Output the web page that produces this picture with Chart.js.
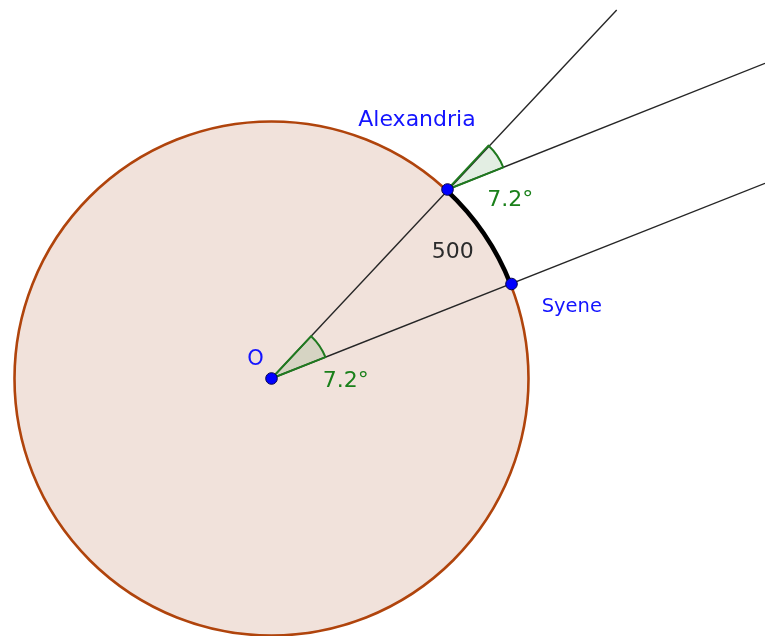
<!DOCTYPE html>
<html>
<head>
<meta charset="utf-8">
<script src="https://cdn.jsdelivr.net/npm/chart.js@4/dist/chart.umd.min.js"></script>
<style>
  html, body { margin: 0; padding: 0; background: #ffffff; }
  #wrap { width: 765px; height: 636px; }
</style>
</head>
<body>
<div id="wrap"><canvas id="c" width="765" height="636"></canvas></div>
<script>
// ---- data (units: drawing units, O at origin, y up) ----
const pointNames = ['O', 'Alexandria', 'Syene'];
const pointX = [0, 176, 240];
const pointY = [0, 189, 94.5];
const circleRadius = 257;

// rays: start point name, end coordinates
const rayStart = ['O', 'O', 'Alexandria'];
const rayEndX = [345.2, 493.5, 493.5];
const rayEndY = [368.5, 195.2, 315.2];

const angleDegrees = 7.2;
const arcLength = 500;

// label texts and anchor positions (left / baseline)
const labelTexts = ['Alexandria', 'Syene', 'O', angleDegrees + '°', angleDegrees + '°', String(arcLength)];
const labelX = [86.8, 270.2, -24.2, 51.2, 215.8, 160.2];
const labelY = [252.5, 66.8, 13.5, -8.8, 172.5, 120.8];

// ---- styles ----
const labelColors = ['#1414ff', '#1414ff', '#1414ff', '#1a801a', '#1a801a', '#2b2b2b'];
const labelSizes = [22, 19.5, 21, 22, 22, 22];
const FONT = '"DejaVu Sans", sans-serif';

const idx = name => pointNames.indexOf(name);

const datasets = [{
  label: 'points',
  data: pointX.map((x, i) => ({ x: x, y: pointY[i] })),
  showLine: false,
  pointRadius: 5.8,
  pointBackgroundColor: '#0000ff',
  pointBorderColor: '#00004a',
  pointBorderWidth: 1
}];
rayStart.forEach((s, i) => {
  const k = idx(s);
  datasets.push({
    label: 'ray' + i,
    data: [{ x: pointX[k], y: pointY[k] }, { x: rayEndX[i], y: rayEndY[i] }],
    showLine: true,
    pointRadius: 0,
    borderColor: '#262626',
    borderWidth: 1.4
  });
});

function geom(chart) {
  const xs = chart.scales.x, ys = chart.scales.y;
  const px = (x) => xs.getPixelForValue(x);
  const py = (y) => ys.getPixelForValue(y);
  const P = pointNames.map((n, i) => ({ x: px(pointX[i]), y: py(pointY[i]) }));
  const rPix = px(circleRadius) - px(0);
  const ends = rayEndX.map((x, i) => ({ x: px(x), y: py(rayEndY[i]) }));
  return { px, py, P, rPix, ends, wedgeR: px(58) - px(0), wedgeR2: px(60) - px(0) };
}

function wedges(g) {
  const O = g.P[idx('O')], A = g.P[idx('Alexandria')];
  const ang = (a, b) => Math.atan2(b.y - a.y, b.x - a.x);
  return [
    { c: O, a1: ang(O, g.ends[0]), a2: ang(O, g.ends[1]), r: g.wedgeR },
    { c: A, a1: ang(O, A), a2: ang(A, g.ends[2]), r: g.wedgeR2 }
  ];
}

const diagramPlugin = {
  id: 'diagram',
  beforeDatasetsDraw(chart) {
    const ctx = chart.ctx, g = geom(chart);
    const O = g.P[idx('O')];
    ctx.save();
    ctx.beginPath();
    ctx.arc(O.x, O.y, g.rPix, 0, Math.PI * 2);
    ctx.fillStyle = 'rgba(153,51,0,0.14)';
    ctx.fill();
    ctx.lineWidth = 2.6;
    ctx.strokeStyle = '#b0440c';
    ctx.stroke();
    wedges(g).forEach(w => {
      ctx.beginPath();
      ctx.moveTo(w.c.x, w.c.y);
      ctx.arc(w.c.x, w.c.y, w.r, w.a1, w.a2, false);
      ctx.closePath();
      ctx.fillStyle = 'rgba(0,100,0,0.11)';
      ctx.fill();
    });
    ctx.restore();
  },
  beforeDatasetDraw(chart, args) {
    if (args.index !== 0) return;
    const ctx = chart.ctx, g = geom(chart);
    const O = g.P[idx('O')], A = g.P[idx('Alexandria')], S = g.P[idx('Syene')];
    ctx.save();
    wedges(g).forEach(w => {
      ctx.beginPath();
      ctx.moveTo(w.c.x, w.c.y);
      ctx.arc(w.c.x, w.c.y, w.r, w.a1, w.a2, false);
      ctx.closePath();
      ctx.lineWidth = 2;
      ctx.lineJoin = 'round';
      ctx.strokeStyle = '#1f7a1f';
      ctx.stroke();
    });
    const aA = Math.atan2(A.y - O.y, A.x - O.x);
    const aS = Math.atan2(S.y - O.y, S.x - O.x);
    ctx.beginPath();
    ctx.arc(O.x, O.y, g.rPix, aA, aS, false);
    ctx.lineWidth = 4.6;
    ctx.strokeStyle = '#000000';
    ctx.stroke();
    ctx.restore();
  },
  afterDatasetsDraw(chart) {
    const ctx = chart.ctx, g = geom(chart);
    ctx.save();
    ctx.textAlign = 'left';
    ctx.textBaseline = 'alphabetic';
    labelTexts.forEach((t, i) => {
      ctx.font = labelSizes[i] + 'px ' + FONT;
      ctx.fillStyle = labelColors[i];
      ctx.fillText(t, g.px(labelX[i]), g.py(labelY[i]));
    });
    ctx.restore();
  }
};

new Chart(document.getElementById('c'), {
  type: 'scatter',
  data: { datasets: datasets },
  options: {
    responsive: false,
    devicePixelRatio: 1,
    animation: false,
    layout: { padding: 0, autoPadding: false },
    plugins: { legend: { display: false }, tooltip: { enabled: false } },
    scales: {
      x: { type: 'linear', min: -271.5, max: 493.5, display: false },
      y: { type: 'linear', min: -257.5, max: 378.5, display: false }
    },
    elements: { line: { tension: 0 } }
  },
  plugins: [diagramPlugin]
});
</script>
</body>
</html>
